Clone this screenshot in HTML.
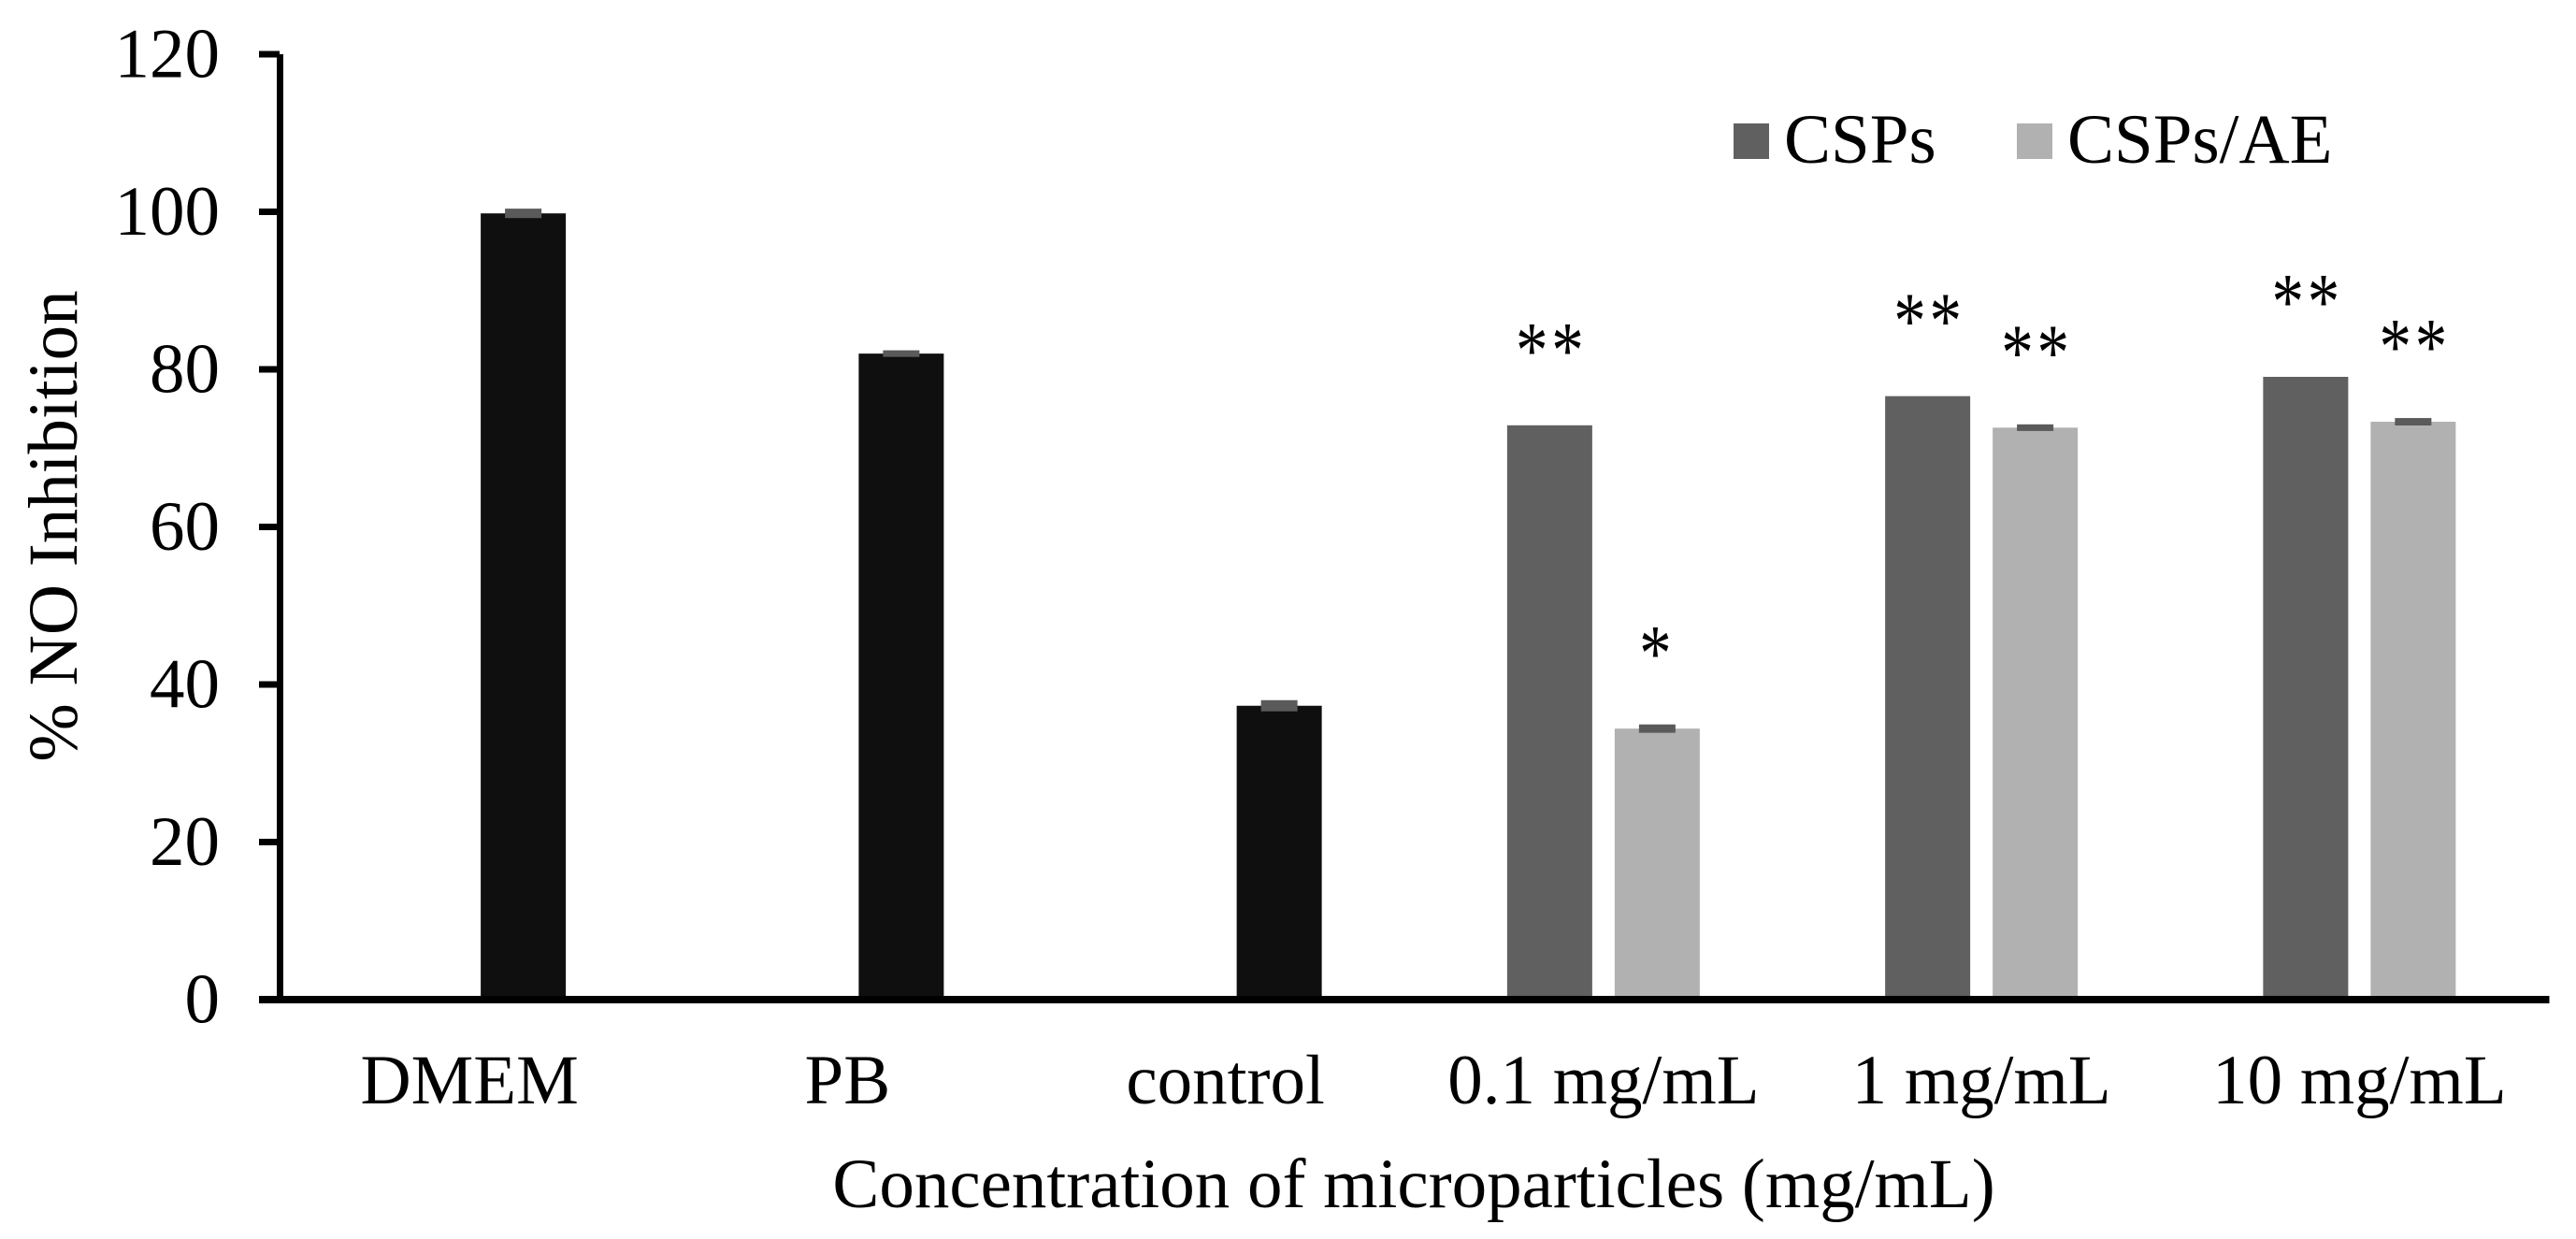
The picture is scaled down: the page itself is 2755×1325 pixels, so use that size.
<!DOCTYPE html>
<html lang="en">
<head>
<meta charset="utf-8">
<title>% NO Inhibition by concentration of microparticles</title>
<style>
html,body{margin:0;padding:0;background:#fff;width:2755px;height:1325px;overflow:hidden}
svg{display:block}
text{font-family:"Liberation Serif",serif;font-size:75px;fill:#000}
</style>
</head>
<body>
<svg id="chart" xmlns="http://www.w3.org/2000/svg" width="2755" height="1325" viewBox="0 0 2755 1325">
  <rect x="0" y="0" width="2755" height="1325" fill="#ffffff"/>
  <g id="bars"></g>
  <g id="errors"></g>
  <g id="sig"></g>
  <g id="yaxis"></g>
  <g id="xaxis"></g>
  <text text-anchor="middle" transform="translate(82 562.5) rotate(-90)">% NO Inhibition</text>
  <text text-anchor="middle" x="1512" y="1291">Concentration of microparticles (mg/mL)</text>
  <g>
    <g>
      <rect x="1854" y="132" width="38" height="38" fill="#606060"/>
      <text x="1908" y="174">CSPs</text>
    </g>
    <g>
      <rect x="2157" y="132" width="38" height="38" fill="#b1b1b1"/>
      <text x="2211" y="174">CSPs/AE</text>
    </g>
  </g>
</svg>
<script>
const categories = ['DMEM', 'PB', 'control', '0.1 mg/mL', '1 mg/mL', '10 mg/mL'];
const controlValues = [99.8, 82.0, 37.3, null, null, null];
const controlErrors = [0.6, 0.42, 0.71, null, null, null];
const cspsValues = [null, null, null, 72.9, 76.6, 79.05];
const cspsErrors = [null, null, null, 0, 0, 0];
const aeValues = [null, null, null, 34.4, 72.6, 73.35];
const aeErrors = [null, null, null, 0.53, 0.42, 0.47];
const cspsSignificance = ['', '', '', '**', '**', '**'];
const aeSignificance = ['', '', '', '*', '**', '**'];
const yTicks = [0, 20, 40, 60, 80, 100, 120];

const SVG_NS = 'http://www.w3.org/2000/svg';
const plotLeft = 300, plotRight = 2725.5, axisRight = 2726.5, y0 = 1069, pxPerUnit = 8.425;
const barWidth = 91, barOffset = 57.5, capWidth = 39;
const xScale = i => plotLeft + (plotRight - plotLeft) * (i + 0.5) / categories.length;
const yScale = v => y0 - v * pxPerUnit;

function mk(parent, tag, attrs, txt) {
  const el = document.createElementNS(SVG_NS, tag);
  for (const k in attrs) el.setAttribute(k, attrs[k]);
  if (txt !== undefined) el.textContent = txt;
  document.getElementById(parent).appendChild(el);
  return el;
}

function drawSeries(key, values, errors, offset, color, significance) {
  values.forEach((v, i) => {
    if (v === null) return;
    const cx = xScale(i) + offset;
    const bar = mk('bars', 'rect', {x: cx - barWidth / 2, y: yScale(v), width: barWidth, height: y0 - yScale(v), fill: color});
    
    
    const e = errors[i];
    if (e) {
      const err = mk('errors', 'rect', {x: cx - capWidth / 2, y: yScale(v + e), width: capWidth, height: yScale(v - e) - yScale(v + e), fill: '#5a5a5a'});
      
      
    }
    if (significance && significance[i]) {
      const nudge = significance[i].length === 1 ? -2 : 0;
      const star = mk('sig', 'text', {
        x: 2,
        y: 0,
        'text-anchor': 'middle',
        'letter-spacing': '4',
        transform: 'translate(' + (cx + nudge) + ' ' + (yScale(v) - 51.5) + ') scale(0.92 1.15)'
      }, significance[i]);
      
      
    }
  });
}
drawSeries('control', controlValues, controlErrors, barOffset, '#0f0f0f', null);
drawSeries('csps', cspsValues, cspsErrors, -barOffset, '#606060', cspsSignificance);
drawSeries('csps-ae', aeValues, aeErrors, barOffset, '#b1b1b1', aeSignificance);

const yLine = mk('yaxis', 'rect', {x: 296, y: yScale(120), width: 7, height: y0 - yScale(120), fill: '#000'});


yTicks.forEach(t => {
  const tick = mk('yaxis', 'rect', {x: 277, y: yScale(t) - 3.5, width: 22, height: 7, fill: '#000'});
  
  
  const lab = mk('yaxis', 'text', {x: 235, y: yScale(t) + 24.5, 'text-anchor': 'end'}, String(t));
  
  
});

const xLine = mk('xaxis', 'rect', {x: 277, y: y0 - 4, width: axisRight - 277, height: 8, fill: '#000'});


categories.forEach((c, i) => {
  const lab = mk('xaxis', 'text', {x: xScale(i), y: 1180, 'text-anchor': 'middle'}, c);
  
  
});
</script>
</body>
</html>
